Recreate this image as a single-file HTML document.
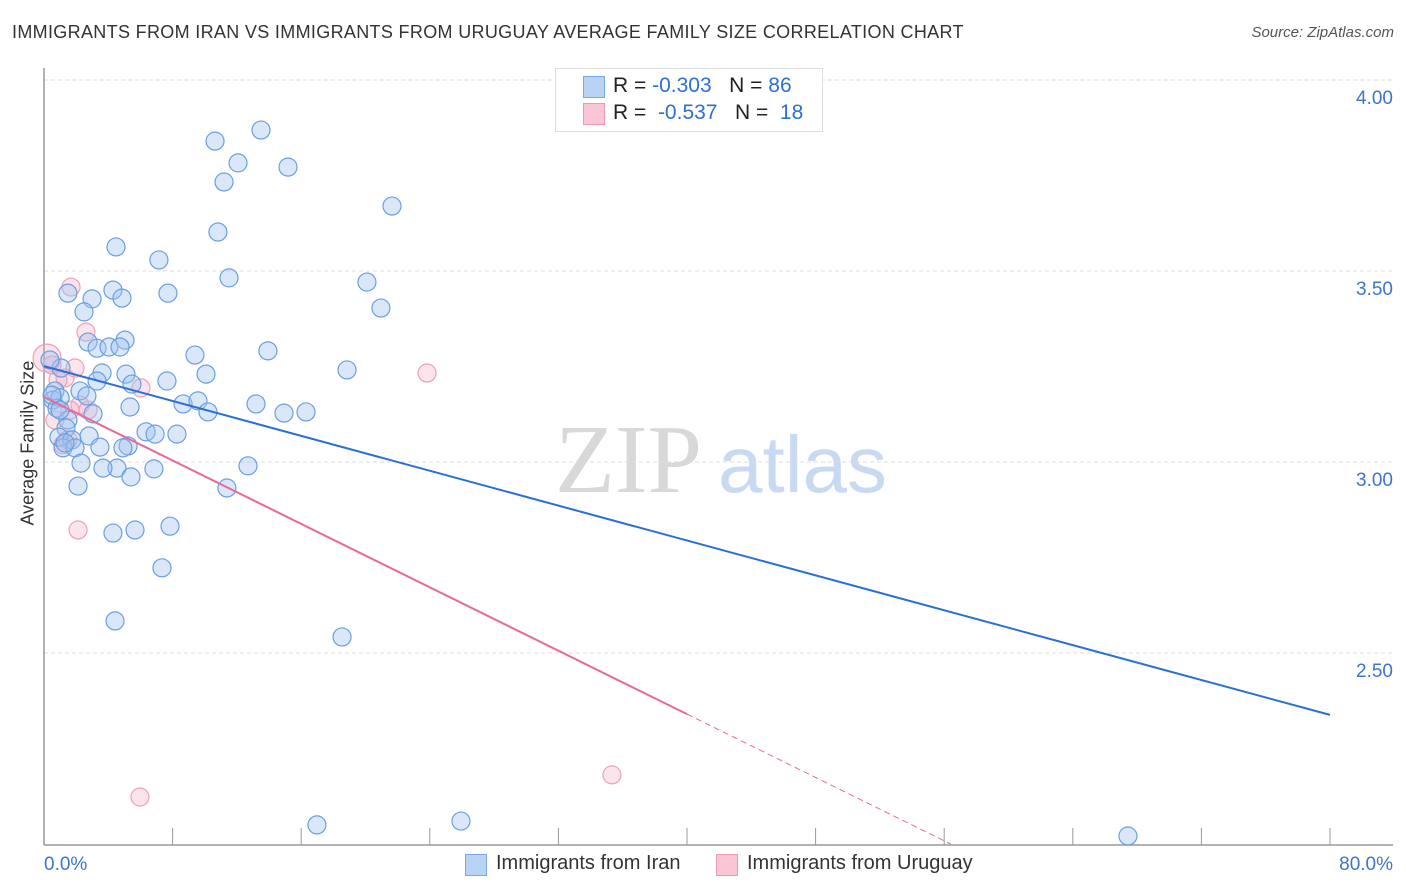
<!DOCTYPE html>
<html><head><meta charset="utf-8"><style>
body{margin:0;background:#fff;font-family:"Liberation Sans",sans-serif;}
#wrap{position:relative;width:1406px;height:892px;overflow:hidden;}
.t{position:absolute;white-space:nowrap;}
</style></head><body>
<div id="wrap">
<div class="t" style="left:12px;top:22px;font-size:18px;color:#333;letter-spacing:0.33px;">IMMIGRANTS FROM IRAN VS IMMIGRANTS FROM URUGUAY AVERAGE FAMILY SIZE CORRELATION CHART</div>
<div class="t" style="right:12px;top:24px;font-size:15px;color:#555;font-style:italic;">Source: ZipAtlas.com</div>
<div class="t" style="left:-42px;top:445px;font-size:18px;color:#333;transform:rotate(-90deg);transform-origin:center;width:140px;text-align:center;">Average Family Size</div>
<svg id="plot" width="1406" height="892" style="position:absolute;left:0;top:0">
<text x="555" y="492" font-family="Liberation Serif,serif" font-size="98" fill="#d8d8d8">ZIP</text>
<text x="718" y="492" font-family="Liberation Sans,sans-serif" font-size="80" fill="#c8daf2">atlas</text>
</svg>
<div style="position:absolute;left:555px;top:68px;width:266px;height:62px;border:1px solid #ddd;background:#fff;">
<div style="position:absolute;left:27px;top:7px;width:20px;height:20px;background:#b9d3f5;border:1px solid #7aa8e6;"></div>
<div class="t" style="left:57px;top:5px;font-size:21px;color:#222;">R = <span style="color:#2f6fd0">-0.303</span>&nbsp;&nbsp;&nbsp;N = <span style="color:#2f6fd0">86</span></div>
<div style="position:absolute;left:27px;top:34px;width:20px;height:20px;background:#fac6d6;border:1px solid #ee9ab4;"></div>
<div class="t" style="left:57px;top:32px;font-size:21px;color:#222;">R = &nbsp;<span style="color:#2f6fd0">-0.537</span>&nbsp;&nbsp;&nbsp;N = &nbsp;<span style="color:#2f6fd0">18</span></div>
</div>
<div style="position:absolute;left:465px;top:854px;">
<div style="position:absolute;left:0;top:0;width:20px;height:20px;background:#b9d3f5;border:1px solid #7aa8e6;"></div>
<div class="t" style="left:31px;top:-2px;font-size:20px;color:#333;">Immigrants from Iran</div></div>
<div style="position:absolute;left:716px;top:854px;">
<div style="position:absolute;left:0;top:0;width:20px;height:20px;background:#fac6d6;border:1px solid #ee9ab4;"></div>
<div class="t" style="left:31px;top:-2px;font-size:20px;color:#333;">Immigrants from Uruguay</div></div>
</div>
<script>
const yTicks=[4.0,3.5,3.0,2.5];
const yTickLabels=["4.00","3.50","3.00","2.50"];
const xTicks=[0,8,16,24,32,40,48,56,64,72,80];
const xEndLabels=["0.0%","80.0%"];
const iranX=[10.64,13.50,12.07,11.20,15.18,21.65,10.82,4.48,7.15,11.51,20.09,7.71,1.49,4.29,2.99,4.85,20.96,2.49,5.04,2.74,3.30,4.04,4.73,9.39,13.93,18.85,1.06,3.61,5.10,10.08,7.65,3.30,5.47,2.24,0.68,0.56,1.00,2.67,8.65,9.58,5.35,13.19,10.20,14.93,16.30,0.81,3.05,1.49,1.37,6.35,6.91,8.27,2.80,0.93,1.74,5.23,4.91,3.48,1.18,1.93,2.30,12.69,4.54,3.67,6.84,5.41,2.12,11.38,7.84,4.29,5.66,7.34,4.42,18.54,16.98,25.94,67.43,0.37,0.50,1.00,1.31];
const iranY=[3.840,3.869,3.783,3.733,3.772,3.670,3.602,3.563,3.529,3.482,3.471,3.442,3.442,3.450,3.427,3.429,3.403,3.393,3.319,3.314,3.298,3.301,3.301,3.280,3.291,3.241,3.246,3.233,3.230,3.230,3.212,3.212,3.204,3.186,3.186,3.162,3.168,3.173,3.152,3.160,3.144,3.152,3.131,3.128,3.131,3.141,3.126,3.110,3.089,3.079,3.073,3.073,3.068,3.065,3.058,3.042,3.037,3.039,3.037,3.037,2.997,2.990,2.984,2.984,2.982,2.961,2.937,2.932,2.832,2.814,2.822,2.723,2.584,2.542,2.050,2.060,2.021,3.267,3.175,3.136,3.050];
const uruX=[1.68,2.61,6.03,23.83,2.12,35.33,5.97,0.19,1.93,1.31,2.24,1.62,0.68,1.18,0.50,0.87,1.49,2.74];
const uruY=[3.458,3.340,3.194,3.233,2.822,2.181,2.123,3.272,3.246,3.220,3.149,3.136,3.110,3.045,3.254,3.215,3.058,3.136];
const iranTrend=[[0,3.251],[80,2.338]];
const uruTrend=[[0,3.170],[40,2.340],[56.4,2.0]];

const X=v=>44+v*16.075, Y=v=>80+(4-v)*382;
const svg=document.getElementById('plot'),NS='http://www.w3.org/2000/svg';
function mk(t,a){const e=document.createElementNS(NS,t);for(const k in a)e.setAttribute(k,a[k]);svg.appendChild(e);return e;}
yTicks.forEach((v,i)=>{
 const g=mk('line',{x1:44,x2:1393,y1:Y(v),y2:Y(v),stroke:'#ddd','stroke-dasharray':'4,3'});
 
 
 const t=mk('text',{x:1393,y:Y(v)+24,'text-anchor':'end','font-size':19,fill:'#3c74d0','font-family':'Liberation Sans,sans-serif'});
 t.textContent=yTickLabels[i];
 
 
});
const ax=mk('line',{x1:44,x2:44,y1:68,y2:845,stroke:'#999','stroke-width':1.5});


const bx=mk('line',{x1:44,x2:1393,y1:845,y2:845,stroke:'#999','stroke-width':1.5});


xTicks.forEach(v=>{const l=mk('line',{x1:X(v),x2:X(v),y1:828,y2:845,stroke:'#999'});
 
 });
[[0,'start'],[80,'end']].forEach((p,i)=>{const t=mk('text',{x:i?X(80)+63:X(0),y:870,'text-anchor':p[1],'font-size':19,fill:'#3c74d0','font-family':'Liberation Sans,sans-serif'});
 t.textContent=xEndLabels[i];
 
 });
uruX.forEach((v,i)=>{const c=mk('circle',{cx:X(v),cy:Y(uruY[i]),r:i==7?14:9,fill:'rgba(245,165,192,0.3)',stroke:'#eea0b8','stroke-width':1.2});
 
 });
iranX.forEach((v,i)=>{const c=mk('circle',{cx:X(v),cy:Y(iranY[i]),r:9,fill:'rgba(160,195,240,0.4)',stroke:'#6a9fe0','stroke-width':1.2});
 
 });
const l1=mk('line',{x1:X(iranTrend[0][0]),y1:Y(iranTrend[0][1]),x2:X(iranTrend[1][0]),y2:Y(iranTrend[1][1]),stroke:'#2a6fd6','stroke-width':2});


const l2=mk('line',{x1:X(uruTrend[0][0]),y1:Y(uruTrend[0][1]),x2:X(uruTrend[1][0]),y2:Y(uruTrend[1][1]),stroke:'#e8699a','stroke-width':2});


const l3=mk('line',{x1:X(uruTrend[1][0]),y1:Y(uruTrend[1][1]),x2:X(uruTrend[2][0]),y2:Y(uruTrend[2][1]),stroke:'#e8699a','stroke-width':1,'stroke-dasharray':'6,4'});


</script>
</body></html>
